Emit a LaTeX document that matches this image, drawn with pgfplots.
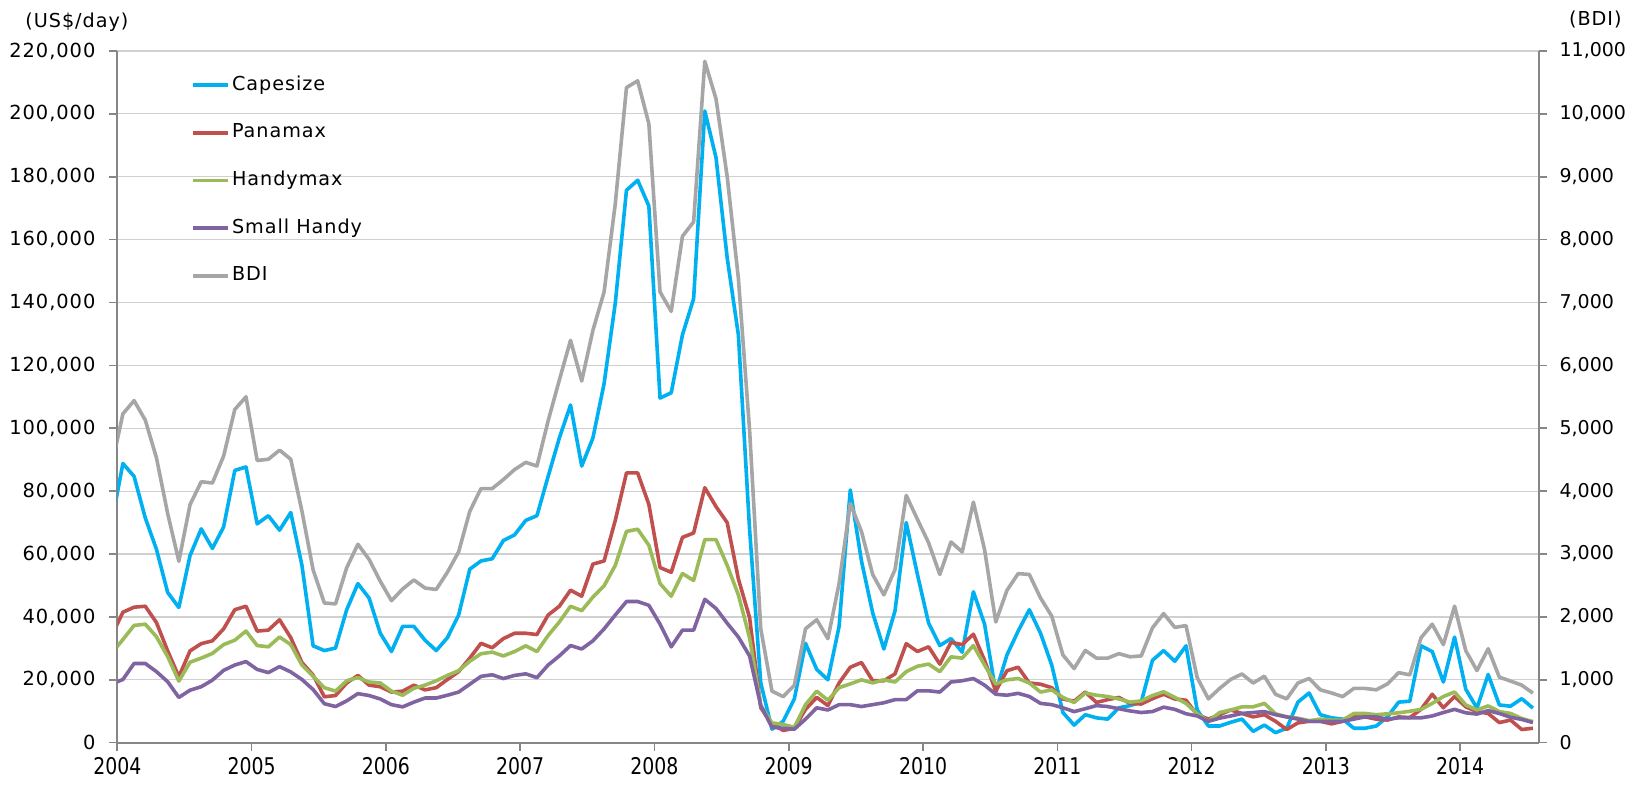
\documentclass[border=0pt]{standalone}
\usepackage{pgfplots}
\pgfplotsset{compat=1.18}
\usepackage{pgfplotstable}
\usepackage{fontspec}
\setmainfont{DejaVu Sans}
\newfontfamily\tfont[LetterSpace=5]{DejaVu Sans}
\newfontfamily\xfont[FakeStretch=0.82]{DejaVu Sans}
\definecolor{ccape}{HTML}{00B0F0}
\definecolor{cpana}{HTML}{C0504D}
\definecolor{chandy}{HTML}{9BBB59}
\definecolor{csmall}{HTML}{8064A2}
\definecolor{cbdi}{HTML}{A6A6A6}
\definecolor{axgray}{HTML}{868686}
\definecolor{gridgray}{HTML}{D0D0D0}

\pgfplotstableread{
x cape pana handy small bdi
-0.5 70.0 34.0 28.5 18.7 4400
0.5 88.8 41.5 32.8 20.1 5230
1.5 84.7 43.1 37.3 25.2 5440
2.5 71.5 43.4 37.7 25.2 5130
3.5 61.5 38.2 33.7 22.6 4530
4.5 47.8 29.2 27.4 19.4 3645
5.5 43.0 21.0 19.6 14.4 2885
6.5 59.5 29.2 25.6 16.7 3785
7.5 68.0 31.5 26.9 17.8 4150
8.5 61.8 32.4 28.4 19.9 4130
9.5 68.6 36.2 31.2 23.0 4558
10.5 86.6 42.3 32.6 24.7 5299
11.5 87.7 43.4 35.5 25.8 5500
12.5 69.6 35.5 30.9 23.3 4487
13.5 72.2 35.8 30.5 22.3 4508
14.5 67.6 39.1 33.6 24.2 4652
15.5 73.2 33.4 31.2 22.5 4508
16.5 56.4 25.5 24.7 20.1 3681
17.5 30.8 21.5 21.1 16.9 2747
18.5 29.3 14.6 17.5 12.4 2222
19.5 30.1 15.0 16.4 11.5 2207
20.5 42.3 19.0 19.7 13.3 2783
21.5 50.6 21.4 20.7 15.6 3156
22.5 46.0 18.3 19.3 15.0 2915
23.5 34.8 17.8 19.0 13.9 2567
24.5 29.0 16.1 16.4 12.1 2258
25.5 37.0 16.4 15.1 11.4 2445
26.5 37.0 18.3 17.3 12.9 2588
27.5 32.6 16.8 18.3 14.2 2459
28.5 29.3 17.5 19.7 14.2 2437
29.5 33.4 20.1 21.4 15.1 2711
30.5 40.6 22.6 22.9 16.1 3034
31.5 55.2 26.9 25.9 18.6 3681
32.5 57.8 31.6 28.3 21.1 4041
33.5 58.5 30.2 28.8 21.6 4041
34.5 64.3 33.1 27.6 20.4 4185
35.5 66.1 34.8 29.0 21.4 4343
36.5 70.7 34.8 30.8 21.9 4458
37.5 72.2 34.4 29.0 20.7 4400
38.5 84.7 40.6 34.1 24.7 5119
39.5 96.9 43.4 38.4 27.6 5766
40.5 107.4 48.5 43.4 30.9 6399
41.5 88.0 46.6 42.0 29.8 5752
42.5 96.9 56.8 46.3 32.4 6557
43.5 114.2 57.8 49.9 36.2 7168
44.5 139.8 70.7 56.4 40.6 8570
45.5 175.7 85.8 67.2 44.9 10418
46.5 178.9 85.8 67.9 44.9 10526
47.5 170.7 75.8 62.8 43.7 9843
48.5 109.6 55.7 50.6 37.7 7168
49.5 111.3 54.2 46.6 30.5 6859
50.5 129.7 65.3 53.8 35.8 8053
51.5 141.2 66.7 51.6 35.8 8283
52.5 200.9 81.1 64.6 45.6 10835
53.5 186.1 75.1 64.6 42.7 10239
54.5 154.2 70.0 56.4 38.0 9002
55.5 129.7 52.1 47.0 33.6 7384
56.5 67.9 39.8 33.4 27.6 4975
57.5 19.0 11.1 11.8 11.8 1812
58.5 4.3 6.0 6.3 4.9 820
59.5 6.8 3.9 5.8 4.6 733
60.5 13.9 4.6 4.9 4.3 913
61.5 31.6 10.6 12.1 7.5 1812
62.5 23.3 14.4 16.4 11.1 1956
63.5 20.0 11.8 13.5 10.4 1654
64.5 37.0 19.0 17.5 12.1 2531
65.5 80.4 24.0 18.7 12.1 3804
66.5 57.8 25.5 20.0 11.5 3358
67.5 41.3 19.7 19.0 12.1 2675
68.5 29.8 19.7 20.0 12.7 2351
69.5 42.0 21.9 19.3 13.7 2754
70.5 70.0 31.5 22.6 13.7 3933
71.5 53.5 29.0 24.3 16.5 3552
72.5 38.0 30.5 25.0 16.5 3178
73.5 30.9 25.0 22.6 16.1 2675
74.5 33.1 31.9 27.3 19.3 3192
75.5 28.8 31.2 26.9 19.7 3034
76.5 48.0 34.5 30.9 20.4 3825
77.5 37.7 26.2 24.7 18.3 3070
78.5 16.1 16.4 18.7 15.4 1920
79.5 27.9 22.9 20.0 15.1 2423
80.5 35.5 24.0 20.4 15.7 2689
81.5 42.3 19.0 19.0 14.7 2675
82.5 34.8 18.6 16.1 12.5 2301
83.5 24.7 17.5 16.8 12.1 2013
84.5 9.6 13.9 14.4 11.1 1395
85.5 5.6 13.2 12.8 9.9 1179
86.5 8.9 16.1 15.8 10.8 1467
87.5 7.9 12.8 15.1 11.8 1345
88.5 7.5 13.7 14.7 11.5 1345
89.5 11.1 14.4 13.9 10.8 1416
90.5 11.8 12.5 12.9 10.1 1366
91.5 13.0 12.3 13.3 9.6 1380
92.5 26.2 14.0 15.0 9.9 1826
93.5 29.3 15.4 16.2 11.3 2053
94.5 25.9 13.9 14.4 10.6 1833
95.5 30.8 13.5 12.5 9.2 1862
96.5 10.4 8.9 9.2 8.5 1035
97.5 5.3 7.5 6.8 6.8 697
98.5 5.3 8.9 9.6 7.8 863
99.5 6.5 10.4 10.4 8.5 1007
100.5 7.5 9.3 11.4 9.3 1093
101.5 3.6 8.2 11.4 9.6 949
102.5 5.6 8.9 12.5 9.9 1057
103.5 3.2 6.8 9.2 8.9 769
104.5 4.6 4.2 8.2 8.2 697
105.5 12.9 6.3 7.8 7.5 949
106.5 15.8 6.8 7.0 6.8 1021
107.5 8.9 6.8 7.5 6.8 841
108.5 7.9 6.0 7.2 6.8 791
109.5 7.5 6.8 7.2 6.8 733
110.5 4.6 8.2 9.3 7.5 863
111.5 4.6 8.2 9.3 8.2 863
112.5 5.3 7.5 8.9 8.2 841
113.5 8.2 7.2 9.2 7.5 935
114.5 12.9 8.2 9.5 7.9 1114
115.5 13.2 8.0 10.0 7.9 1079
116.5 30.8 10.6 10.6 7.9 1668
117.5 29.0 15.4 12.5 8.5 1884
118.5 19.3 11.1 14.7 9.6 1560
119.5 33.6 14.7 16.1 10.6 2171
120.5 17.0 11.4 12.0 9.5 1463
121.5 11.0 9.9 10.4 9.1 1147
122.5 21.7 9.3 11.7 10.2 1494
123.5 12.0 6.4 9.9 9.3 1042
124.5 11.6 7.2 9.3 8.1 980
125.5 14.0 4.2 7.7 7.4 915
126.5 11.0 4.6 6.7 6.4 788
}\data

\begin{document}
\begin{tikzpicture}
\useasboundingbox (-58.65pt,-21.15pt) rectangle (757.35pt,371.35pt);
\begin{axis}[
  at={(0,0)}, anchor=south west,
  scale only axis, width=710.6pt, height=345.85pt,
  xmin=0, xmax=127, ymin=0, ymax=220,
  axis x line*=bottom, axis y line*=left,
  axis line style={axgray, line width=1pt},
  tick align=outside,
  major tick length=4pt,
  tick style={axgray, line width=0.8pt},
  xtick={0,12,24,36,48,60,72,84,96,108,120},
  xticklabels={2004,2005,2006,2007,2008,2009,2010,2011,2012,2013,2014},
  ytick={0,20,40,60,80,100,120,140,160,180,200,220},
  yticklabels={0,{20,000},{40,000},{60,000},{80,000},{100,000},{120,000},{140,000},{160,000},{180,000},{200,000},{220,000}},
  ymajorgrids, grid style={gridgray, line width=0.6pt},
  xticklabel style={font=\xfont\fontsize{11.5}{12}\selectfont},
  yticklabel style={font=\tfont\fontsize{9.7}{11}\selectfont, xshift=-3.4pt},
  legend style={at={(axis description cs:0.0519,0.965)}, anchor=north west,
    draw=none, fill=none, inner sep=0pt, row sep=14.45pt,
    font=\tfont\fontsize{9.6}{11}\selectfont,
    nodes={inner xsep=1pt, inner ysep=0pt, text height=7.2pt, text depth=2.2pt}},
  legend cell align=left,
  legend image code/.code={\draw[#1] (0pt,0pt) -- (17.5pt,0pt);},
  every axis plot/.append style={line width=1.8pt, line join=round},
]
\addplot[ccape] table[x=x,y=cape]{\data};
\addlegendentry{Capesize}
\addplot[cpana] table[x=x,y=pana]{\data};
\addlegendentry{Panamax}
\addplot[chandy] table[x=x,y=handy]{\data};
\addlegendentry{Handymax}
\addplot[csmall] table[x=x,y=small]{\data};
\addlegendentry{Small Handy}
\addlegendimage{cbdi, line width=1.8pt}
\addlegendentry{BDI}
\end{axis}
\begin{axis}[
  at={(0,0)}, anchor=south west,
  scale only axis, width=710.6pt, height=345.85pt,
  xmin=0, xmax=127, ymin=0, ymax=11000,
  axis y line*=right, axis x line=none,
  axis line style={axgray, line width=1pt},
  scaled y ticks=false,
  tick align=outside,
  major tick length=4pt,
  tick style={axgray, line width=0.8pt},
  ytick={0,1000,2000,3000,4000,5000,6000,7000,8000,9000,10000,11000},
  yticklabels={0,{1,000},{2,000},{3,000},{4,000},{5,000},{6,000},{7,000},{8,000},{9,000},{10,000},{11,000}},
  yticklabel style={font=\fontsize{9.5}{11}\selectfont, xshift=3pt},
  every axis plot/.append style={line width=1.8pt, line join=round},
]
\addplot[cbdi] table[x=x,y=bdi]{\data};
\end{axis}
\node[font=\tfont\fontsize{9.6}{11}\selectfont] at (-20.2pt,360.4pt) {(US\$/day)};
\node[font=\tfont\fontsize{9.6}{11}\selectfont] at (739pt,361.4pt) {(BDI)};
\end{tikzpicture}
\end{document}
